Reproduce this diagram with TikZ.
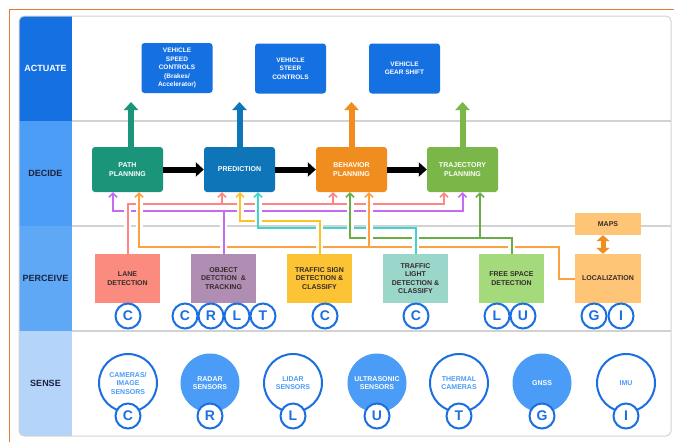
\documentclass[tikz,border=0pt]{standalone}
\usepackage{fontspec}
\setmainfont{Liberation Sans}
\usetikzlibrary{arrows.meta,calc}
\definecolor{cact}{HTML}{1570E2}
\definecolor{cdec}{HTML}{4C9DF5}
\definecolor{cper}{HTML}{5EA8F6}
\definecolor{csen}{HTML}{B4D4FA}
\definecolor{ctxt}{HTML}{1C2340}
\definecolor{ptxt}{HTML}{352B2B}
\definecolor{cblue}{HTML}{1B6FE0}
\definecolor{clb}{HTML}{4A9CF6}
\definecolor{cteal}{HTML}{1A957A}
\definecolor{cpred}{HTML}{0E76B8}
\definecolor{cbeh}{HTML}{F08D1F}
\definecolor{ctraj}{HTML}{7AB648}
\definecolor{clane}{HTML}{FA8B7E}
\definecolor{cobj}{HTML}{B08DB2}
\definecolor{csign}{HTML}{FCC434}
\definecolor{clight}{HTML}{9AD6C9}
\definecolor{cfree}{HTML}{A4DA7B}
\definecolor{cloc}{HTML}{FFC576}
\definecolor{ksal}{HTML}{FF8585}
\definecolor{kpur}{HTML}{C46BF4}
\definecolor{kora}{HTML}{FFA040}
\definecolor{kyel}{HTML}{FFC224}
\definecolor{kcya}{HTML}{3FD3D3}
\definecolor{kgre}{HTML}{6AAD45}
\definecolor{cgray}{HTML}{D2D2D2}
\definecolor{cframe}{HTML}{E07B39}
\tikzset{
 rowlbl/.style={font=\fontsize{9}{10}\selectfont\bfseries, text=ctxt, inner sep=0pt},
 actbox/.style={fill=cact, rounded corners=3pt, minimum width=71pt, minimum height=50pt, inner sep=0pt, align=center, text=white, font=\fontsize{6.5}{8.5}\selectfont\bfseries},
 decbox/.style={rounded corners=3pt, minimum width=71pt, minimum height=45pt, inner sep=0pt, align=center, text=white, font=\fontsize{7}{9}\selectfont\bfseries},
 perbox/.style={minimum width=65pt, minimum height=49pt, inner sep=0pt, align=center, text=ptxt, font=\fontsize{7}{8.6}\selectfont\bfseries},
 lett/.style={circle, draw=cblue, line width=2pt, fill=white, minimum size=25pt, inner sep=0pt, text=cblue, font=\fontsize{14}{14}\selectfont\bfseries},
 bigw/.style={circle, draw=cblue, line width=2pt, fill=white, minimum size=58pt, inner sep=0pt, align=center, text=clb, font=\fontsize{7}{8.5}\selectfont\bfseries},
 bigf/.style={circle, fill=clb, minimum size=59pt, inner sep=0pt, align=center, text=white, font=\fontsize{7}{8.5}\selectfont\bfseries},
 fat/.style={line width=6pt, -{Triangle[width=14pt,length=8pt]}},
 conn/.style={line width=2pt, -{Straight Barb[length=4pt,width=8pt,line width=1.6pt]}},
 crossv/.style={line width=2pt, preaction={draw=white, line width=7pt}, shorten <=3pt, shorten >=3pt},
 crossa/.style={crossv, shorten >=8pt},
}
\begin{document}
\begin{tikzpicture}[x=1pt,y=-1pt]
\useasboundingbox (0,0) rectangle (674,442);
% outer frame
\draw[cframe, line width=1.8pt] (9.5,442) -- (9.5,9.5) -- (674,9.5);
% panel
\begin{scope}
\clip[rounded corners=5pt] (19,16) rectangle (671,436);
\fill[white] (19,16) rectangle (671,436);
\fill[cact] (19,16) rectangle (72,121);
\fill[cdec] (19,121) rectangle (72,226);
\fill[cper] (19,226) rectangle (72,331);
\fill[csen] (19,331) rectangle (72,436);
\end{scope}
\draw[cgray, line width=1.5pt] (72,121) -- (671,121);
\draw[cgray, line width=1.5pt] (72,226) -- (671,226);
\draw[cgray, line width=1.5pt] (72,331) -- (671,331);
\draw[cgray, line width=1pt, rounded corners=5pt] (19,16) rectangle (671,436);
% row labels
\node[rowlbl, text=white] (lact) at (45.5,68) {ACTUATE};
\node[rowlbl] (ldec) at (45.5,173) {DECIDE};
\node[rowlbl] (lper) at (45.5,278) {PERCEIVE};
\node[rowlbl] (lsen) at (45.5,383) {SENSE};
% actuate boxes
\node[actbox] (speed) at (177,68) {VEHICLE\\SPEED\\CONTROLS\\(Brakes/\\Accelerator)};
\node[actbox] (steer) at (290.5,68.5) {VEHICLE\\STEER\\CONTROLS};
\node[actbox] (gear) at (404.5,68.5) {VEHICLE\\GEAR SHIFT};
% decide boxes
\node[decbox, fill=cteal] (path) at (127.5,169.5) {PATH\\PLANNING};
\node[decbox, fill=cpred] (pred) at (239.5,169.5) {PREDICTION};
\node[decbox, fill=cbeh] (behav) at (351.5,169.5) {BEHAVIOR\\PLANNING};
\node[decbox, fill=ctraj] (traj) at (462.5,169.5) {TRAJECTORY\\PLANNING};
% perceive boxes
\node[perbox, fill=clane] (lane) at (127.5,278.5) {LANE\\DETECTION};
\node[perbox, fill=cobj] (obj) at (223.5,278.5) {OBJECT\\DETCTION\ \ \&\\TRACKING};
\node[perbox, fill=csign] (tsign) at (319.5,278.5) {TRAFFIC SIGN\\DETECTION \&\\CLASSIFY};
\node[perbox, fill=clight] (tlight) at (415.5,278.5) {TRAFFIC\\LIGHT\\DETECTION \&\\CLASSIFY};
\node[perbox, fill=cfree] (free) at (511.5,278.5) {FREE SPACE\\DETECTION};
\node[perbox, fill=cloc, minimum width=66pt] (loc) at (608,278.5) {LOCALIZATION};
\node[perbox, fill=cloc, minimum width=66pt, minimum height=22pt] (maps) at (608,224) {MAPS};
% thick arrows
\coordinate (aTop) at (0,102);
\coordinate (pu) at ([xshift=3.5pt]path.north);
\draw[fat, cteal] (pu) -- (pu |- aTop);
\draw[fat, cpred] (pred.north) -- (pred.north |- aTop);
\draw[fat, cbeh] (behav.north) -- (behav.north |- aTop);
\draw[fat, ctraj] (traj.north) -- (traj.north |- aTop);
\draw[fat, black] (path.east) -- (pred.west);
\draw[fat, black] (pred.east) -- (behav.west);
\draw[fat, black] (behav.east) -- (traj.west);
\draw[line width=5pt, cbeh, {Triangle[width=13pt,length=6pt]}-{Triangle[width=13pt,length=6pt]}] ([xshift=-5pt]maps.south) -- ([xshift=-5pt]loc.north);
% connector levels and targets
\coordinate (hS) at (0,204);
\coordinate (hP) at (0,211);
\coordinate (hY) at (0,221);
\coordinate (hC) at (0,228);
\coordinate (hG) at (0,238);
\coordinate (obend) at (559,247);
\coordinate (pP) at ([xshift=-14.5pt]path.south);
\coordinate (pO) at ([xshift=11.5pt]path.south);
\coordinate (rS) at ([xshift=-17.5pt]pred.south);
\coordinate (rY) at ([xshift=0.5pt]pred.south);
\coordinate (rC) at ([xshift=18.5pt]pred.south);
\coordinate (bS) at ([xshift=-18.5pt]behav.south);
\coordinate (bG) at ([xshift=-1.5pt]behav.south);
\coordinate (bO) at ([xshift=17.5pt]behav.south);
\coordinate (tS) at ([xshift=-18.5pt]traj.south);
\coordinate (tP) at (traj.south);
\coordinate (tG) at ([xshift=17.5pt]traj.south);
% connectors
\draw[conn, kora] (loc.west) -| (obend) -| (pO);
\draw[conn, kora] (bO |- obend) -- (bO);
\draw[conn, kpur] (obj.north) |- (pP |- hP) -- (pP);
\draw[conn, kpur] (obj.north |- hP) -| (tP);
\draw[conn, ksal] (lane.north) |- (tS |- hS) -- (tS);
\draw[conn, ksal] (rS |- hS) -- (rS);
\draw[conn, ksal] (bS |- hS) -- (bS);
\draw[conn, kyel] (tsign.north) |- (rY |- hY) -- (rY);
\draw[conn, kcya] (tlight.north) |- (rC |- hC) -- (rC);
\draw[conn, kgre] (free.north) |- (bG |- hG) -- (bG);
\draw[conn, kgre] (tG |- hG) -- (tG);
% crossing overlays (vertical runs on top)
\draw[crossv, ksal] (lane.north) -- (lane.north |- hS);
\draw[crossa, kora] (pO |- obend) -- (pO);
\draw[crossv, kpur] (obj.north) -- (obj.north |- hP);
\draw[crossv, kyel] (tsign.north) -- (tsign.north |- hY);
\draw[crossa, kyel] (rY |- hY) -- (rY);
\draw[crossv, kcya] (tlight.north) -- (tlight.north |- hC);
\draw[crossa, kcya] (rC |- hC) -- (rC);
\draw[crossv, kgre] (free.north) -- (free.north |- hG);
\draw[crossa, kgre] (bG |- hG) -- (bG);
\draw[crossa, kora] (bO |- obend) -- (bO);
% perceive letters
\node[lett] (lC) at (128,316) {C};
\node[lett] (oC) at (185,316) {C};
\node[lett] (oR) at (211,316) {R};
\node[lett] (oL) at (237,316) {L};
\node[lett] (oT) at (263,316) {T};
\node[lett] (sC) at (325,316) {C};
\node[lett] (tC) at (416,316) {C};
\node[lett] (fL) at (497,316) {L};
\node[lett] (fU) at (523,316) {U};
\node[lett] (gG) at (594,316) {G};
\node[lett] (gI) at (621,316) {I};
% sense circles
\node[bigw] (scam) at (128,383) {CAMERAS/\\IMAGE\\SENSORS};
\node[bigf] (srad) at (210,383) {RADAR\\SENSORS};
\node[bigw] (slid) at (293,383) {LIDAR\\SENSORS};
\node[bigf] (sult) at (377,383) {ULTRASONIC\\SENSORS};
\node[bigw] (sthe) at (459,383) {THERMAL\\CAMERAS};
\node[bigf] (sgns) at (542,383) {GNSS};
\node[bigw] (simu) at (626,383) {IMU};
\node[lett] (xC) at (128,416) {C};
\node[lett] (xR) at (210,416) {R};
\node[lett] (xL) at (293,416) {L};
\node[lett] (xU) at (377,416) {U};
\node[lett] (xT) at (459,416) {T};
\node[lett] (xG) at (542,416) {G};
\node[lett] (xI) at (626,416) {I};
\end{tikzpicture}
\end{document}
